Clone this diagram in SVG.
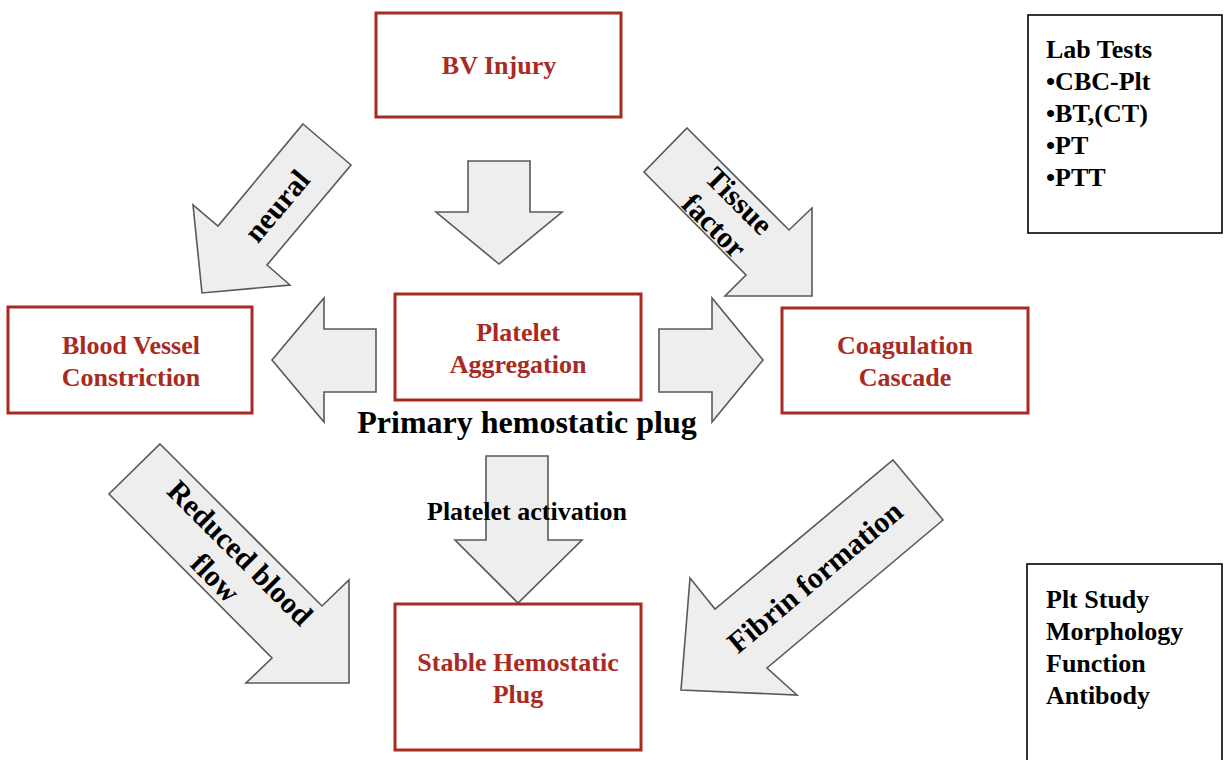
<svg xmlns="http://www.w3.org/2000/svg" width="1227" height="760" viewBox="0 0 1227 760">
<style>
.box{fill:#fff;stroke:#a82b23;stroke-width:3}
.info{fill:#fff;stroke:#000;stroke-width:1.6}
.lbl{font-family:"Liberation Serif","Times New Roman",serif;font-weight:bold;font-size:26px;fill:#a82b23;text-anchor:middle}
.blk{font-family:"Liberation Serif","Times New Roman",serif;font-weight:bold;fill:#000}
.arr{fill:#eeeeee;stroke:#595959;stroke-width:1.6;stroke-linejoin:miter}
.al{font-family:"Liberation Serif","Times New Roman",serif;font-weight:bold;font-size:30px;fill:#000;text-anchor:middle}
</style>
<rect width="1227" height="760" fill="#fff"/>
<g id="connectors">
<polygon class="arr" points="468,161 530,161 530,212 562,212 499,264 436,212 468,212"/>
<polygon class="arr" points="376,329 324,329 324,298 272,360 324,422 324,392 376,392"/>
<polygon class="arr" points="659,329 712,329 712,298 763,360 712,422 712,392 659,392"/>
<polygon class="arr" points="486,456 548,456 548,540 582,540 518,603 455,540 486,540"/>
<polygon class="arr" points="303,124 351,165 267,265 290,285 202,293 193,205 218,226"/>
<polygon class="arr" points="687,128 789,230 812,208 812,296 725,296 746,275 644,172"/>
<polygon class="arr" points="160,444 322,606 349,580 349,683 246,683 272,658 109,494"/>
<polygon class="arr" points="893,460 943,520 767,668 797,695 681,690 690,578 715,609"/>
<text class="al" transform="translate(277,206) rotate(-50)" y="10">neural</text>
<text class="al" transform="translate(727,213) rotate(45)"><tspan x="0" y="-7">Tissue</tspan><tspan x="0" y="28">factor</tspan></text>
<text class="al" transform="translate(228,565) rotate(45)"><tspan x="0" y="-7">Reduced blood</tspan><tspan x="0" y="28">flow</tspan></text>
<text class="al" transform="translate(815,577) rotate(-40)" y="10">Fibrin formation</text>
<text class="blk" x="527" y="520" font-size="26" text-anchor="middle">Platelet activation</text>
</g>
<g id="bv-injury">
<rect class="box" x="376" y="13" width="245" height="104"/>
<text class="lbl" x="499" y="74">BV Injury</text>
</g>
<g id="blood-vessel-constriction">
<rect class="box" x="8" y="307" width="244" height="106"/>
<text class="lbl" x="131" y="354">Blood Vessel</text>
<text class="lbl" x="131" y="386">Constriction</text>
</g>
<g id="platelet-aggregation">
<rect class="box" x="395" y="294" width="246" height="106"/>
<text class="lbl" x="518" y="341">Platelet</text>
<text class="lbl" x="518" y="373">Aggregation</text>
</g>
<g id="coagulation-cascade">
<rect class="box" x="782" y="308" width="246" height="105"/>
<text class="lbl" x="905" y="354">Coagulation</text>
<text class="lbl" x="905" y="386">Cascade</text>
</g>
<g id="stable-hemostatic-plug">
<rect class="box" x="395" y="604" width="246" height="146"/>
<text class="lbl" x="518" y="671">Stable Hemostatic</text>
<text class="lbl" x="518" y="703">Plug</text>
</g>
<g id="primary-plug-label">
<text class="blk" x="527" y="433" font-size="32" text-anchor="middle">Primary hemostatic plug</text>
</g>
<g id="lab-tests">
<rect class="info" x="1028" y="15" width="194" height="218"/>
<text class="blk" font-size="26"><tspan x="1046" y="58">Lab Tests</tspan><tspan x="1046" y="90">•CBC-Plt</tspan><tspan x="1046" y="122">•BT,(CT)</tspan><tspan x="1046" y="154">•PT</tspan><tspan x="1046" y="186">•PTT</tspan></text>
</g>
<g id="plt-study">
<rect class="info" x="1027" y="564" width="195" height="210"/>
<text class="blk" font-size="26"><tspan x="1046" y="608">Plt Study</tspan><tspan x="1046" y="640">Morphology</tspan><tspan x="1046" y="672">Function</tspan><tspan x="1046" y="704">Antibody</tspan></text>
</g>
</svg>
